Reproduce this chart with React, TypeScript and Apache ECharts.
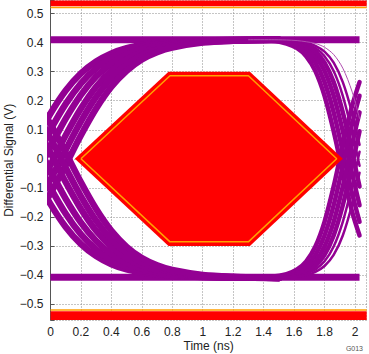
import React, { useEffect, useRef } from "react";
import * as echarts from "echarts";

// ---- data ----
const X_MIN = 0;
const X_MAX = 2.077;
const Y_MIN = -0.555;
const Y_MAX = 0.545;

// eye mask (hexagon), outer red and inner orange outline
const MASK_X = [0.16, 0.775, 1.31, 1.92, 1.31, 0.775];
const MASK_Y = [0, 0.3, 0.3, 0, -0.3, -0.3];
const MASK_IN_X = [0.2, 0.785, 1.3, 1.88, 1.3, 0.785];
const MASK_IN_Y = [0, 0.286, 0.286, 0, -0.286, -0.286];

// upper / lower limit bands
const BAND_TOP = [0.525, 0.545];
const BAND_BOTTOM = [-0.555, -0.525];
const BAND_EDGE = [0.521, -0.521];

// steady levels
const LEVEL_HIGH = 0.41;
const LEVEL_LOW = -0.408;
const LEVEL_END = 2.03;

// left transitions
const X_LEFT = [-0.2, -0.1, 0, 0.1, 0.2, 0.3, 0.4, 0.5, 0.6, 0.7, 0.8, 1.0, 1.2, 1.5];
const RISE_LEFT = [
  [-0.041, 0.061, 0.156, 0.235, 0.294, 0.335, 0.363, 0.381, 0.392, 0.399, 0.403, 0.407, 0.409, 0.41],
  [-0.1, 0, 0.1, 0.189, 0.26, 0.312, 0.348, 0.371, 0.386, 0.395, 0.401, 0.407, 0.409, 0.41],
  [-0.156, -0.061, 0.041, 0.138, 0.22, 0.283, 0.328, 0.358, 0.378, 0.39, 0.398, 0.405, 0.408, 0.41],
  [-0.205, -0.119, -0.021, 0.081, 0.173, 0.248, 0.303, 0.342, 0.367, 0.383, 0.394, 0.404, 0.408, 0.41],
  [-0.241, -0.164, -0.071, 0.031, 0.129, 0.213, 0.278, 0.324, 0.356, 0.376, 0.389, 0.402, 0.407, 0.41],
  [-0.272, -0.205, -0.119, -0.021, 0.081, 0.173, 0.248, 0.303, 0.342, 0.367, 0.383, 0.4, 0.406, 0.41],
];
const FALL_LEFT = [
  [0.041, -0.061, -0.156, -0.235, -0.294, -0.335, -0.363, -0.381, -0.392, -0.399, -0.403, -0.407, -0.409, -0.41],
  [0.1, 0, -0.1, -0.189, -0.26, -0.312, -0.348, -0.371, -0.386, -0.395, -0.401, -0.407, -0.409, -0.41],
  [0.156, 0.061, -0.041, -0.138, -0.22, -0.283, -0.328, -0.358, -0.378, -0.39, -0.398, -0.405, -0.408, -0.41],
  [0.205, 0.119, 0.021, -0.081, -0.173, -0.248, -0.303, -0.342, -0.367, -0.383, -0.394, -0.404, -0.408, -0.41],
  [0.241, 0.164, 0.071, -0.031, -0.129, -0.213, -0.278, -0.324, -0.356, -0.376, -0.389, -0.402, -0.407, -0.41],
  [0.272, 0.205, 0.119, 0.021, -0.081, -0.173, -0.248, -0.303, -0.342, -0.367, -0.383, -0.4, -0.406, -0.41],
];

// right transitions
const X_RIGHT = [1.3, 1.45, 1.55, 1.62, 1.68, 1.74, 1.8, 1.86, 1.92, 1.98, 2.03];
const FALL_RIGHT = [
  [0.409, 0.406, 0.397, 0.381, 0.353, 0.302, 0.217, 0.095, -0.048, -0.18, -0.264],
  [0.409, 0.407, 0.401, 0.389, 0.369, 0.331, 0.264, 0.16, 0.024, -0.117, -0.217],
  [0.41, 0.408, 0.403, 0.395, 0.381, 0.353, 0.302, 0.217, 0.095, -0.048, -0.16],
  [0.41, 0.409, 0.405, 0.4, 0.389, 0.369, 0.331, 0.264, 0.16, 0.024, -0.095],
  [0.41, 0.41, 0.407, 0.403, 0.395, 0.381, 0.353, 0.302, 0.217, 0.095, -0.024],
  [0.41, 0.41, 0.408, 0.405, 0.4, 0.389, 0.369, 0.331, 0.264, 0.16, 0.048],
];
const RISE_RIGHT = [
  [-0.409, -0.406, -0.397, -0.381, -0.353, -0.302, -0.217, -0.095, 0.048, 0.18, 0.264],
  [-0.409, -0.407, -0.401, -0.389, -0.369, -0.331, -0.264, -0.16, -0.024, 0.117, 0.217],
  [-0.41, -0.408, -0.403, -0.395, -0.381, -0.353, -0.302, -0.217, -0.095, 0.048, 0.16],
  [-0.41, -0.409, -0.405, -0.4, -0.389, -0.369, -0.331, -0.264, -0.16, -0.024, 0.095],
  [-0.41, -0.41, -0.407, -0.403, -0.395, -0.381, -0.353, -0.302, -0.217, -0.095, 0.024],
  [-0.41, -0.41, -0.408, -0.405, -0.4, -0.389, -0.369, -0.331, -0.264, -0.16, -0.048],
];
const FALL_RIGHT_OUTLIER = [0.41, 0.41, 0.409, 0.407, 0.403, 0.397, 0.384, 0.359, 0.312, 0.233, 0.139];

const X_TICK_STEP = 0.2;

const PURPLE = "#930093";
const RED = "#ff0000";
const ORANGE = "#ffa000";
const FONT = "Liberation Sans, Arial, sans-serif";

function zip(xs: number[], ys: number[]) {
  return xs.map((x, i) => [x, ys[i]]);
}

function trace(xs: number[], ys: number[], width: number, color = PURPLE) {
  return {
    type: "line",
    data: zip(xs, ys),
    smooth: 0.3,
    symbol: "none",
    silent: true,
    z: 2,
    lineStyle: { color, width, cap: "round", join: "round" },
  };
}

function polygon(pts: number[][], fill: string, z = 4) {
  return {
    type: "custom",
    silent: true,
    z,
    data: [[0, 0]],
    renderItem: (_p: any, api: any) => ({
      type: "polygon",
      shape: { points: pts.map((p) => api.coord(p)) },
      style: { fill },
    }),
  };
}

function hline(y: number, x0: number, x1: number, color: string, width: number, z = 5) {
  return {
    type: "line",
    data: [
      [x0, y],
      [x1, y],
    ],
    symbol: "none",
    silent: true,
    z,
    lineStyle: { color, width },
  };
}

export default function App() {
  const ref = useRef<HTMLDivElement>(null);
  useEffect(() => {
    if (!ref.current) return;
    const chart = echarts.init(ref.current, null, { renderer: "svg" });

    const series: any[] = [];
    series.push(hline(LEVEL_HIGH, 0, LEVEL_END, PURPLE, 7, 2));
    series.push(hline(LEVEL_LOW, 0, LEVEL_END, PURPLE, 7, 2));
    RISE_LEFT.forEach((ys) => series.push(trace(X_LEFT, ys, 6.5)));
    FALL_LEFT.forEach((ys) => series.push(trace(X_LEFT, ys, 6.5)));
    FALL_RIGHT.forEach((ys, i) => series.push(trace(X_RIGHT, ys, i < 4 ? 4.5 : 2.5)));
    RISE_RIGHT.forEach((ys, i) => series.push(trace(X_RIGHT, ys, i < 4 ? 4.5 : 2.5)));
    series.push(trace(X_RIGHT, FALL_RIGHT_OUTLIER, 1, "#b04db0"));

    series.push(polygon(zip(MASK_X, MASK_Y), RED));
    const inner = zip(MASK_IN_X, MASK_IN_Y);
    series.push({
      type: "line",
      data: [...inner, inner[0]],
      symbol: "none",
      silent: true,
      z: 5,
      lineStyle: { color: ORANGE, width: 1.5 },
    });
    series.push(
      polygon(
        [
          [X_MIN, BAND_TOP[0]],
          [X_MAX, BAND_TOP[0]],
          [X_MAX, BAND_TOP[1]],
          [X_MIN, BAND_TOP[1]],
        ],
        RED
      )
    );
    series.push(
      polygon(
        [
          [X_MIN, BAND_BOTTOM[0]],
          [X_MAX, BAND_BOTTOM[0]],
          [X_MAX, BAND_BOTTOM[1]],
          [X_MIN, BAND_BOTTOM[1]],
        ],
        RED
      )
    );
    series.push(hline(BAND_EDGE[0], X_MIN, X_MAX, ORANGE, 1.5));
    series.push(hline(BAND_EDGE[1], X_MIN, X_MAX, ORANGE, 1.5));

    const gridLine = { show: true, lineStyle: { color: "#8a8a8a", width: 1, type: [1, 2] } };

    chart.setOption({
      animation: false,
      backgroundColor: "#ffffff",
      grid: {
        left: 50.5,
        right: 2.3,
        top: 0.5,
        bottom: 34,
        containLabel: false,
        outerBoundsMode: "none",
      },
      xAxis: {
        type: "value",
        min: X_MIN,
        max: X_MAX,
        interval: X_TICK_STEP,
        name: "Time (ns)",
        nameLocation: "middle",
        nameGap: 19.5,
        nameMoveOverlap: false,
        nameTextStyle: { fontFamily: FONT, fontSize: 12, color: "#222", verticalAlign: "top" },
        axisLine: { show: false, onZero: false },
        axisTick: { show: false },
        axisLabel: {
          fontFamily: FONT,
          fontSize: 12,
          color: "#222",
          margin: 6,
          showMaxLabel: false,
          formatter: (v: number) => {
            const k = v / X_TICK_STEP;
            if (Math.abs(k - Math.round(k)) > 1e-6) return "";
            return String(Math.round(v * 10) / 10);
          },
        },
        splitLine: gridLine,
      },
      yAxis: {
        type: "value",
        min: Y_MIN,
        max: Y_MAX,
        splitNumber: 11,
        minInterval: 0.1,
        maxInterval: 0.1,
        name: "Differential Signal (V)",
        nameLocation: "middle",
        nameGap: 36,
        nameMoveOverlap: false,
        nameTextStyle: { fontFamily: FONT, fontSize: 12, color: "#222" },
        axisLine: { show: true, lineStyle: { color: "#555", width: 1 } },
        axisTick: { show: true, inside: true, length: 4, lineStyle: { color: "#555" } },
        axisLabel: {
          fontFamily: FONT,
          fontSize: 12,
          color: "#222",
          margin: 7,
          formatter: (v: number) => {
            if (Math.abs(v) > 0.5001) return "";
            const r = Math.round(v * 10) / 10;
            if (Math.abs(r) < 1e-9) return "0";
            return (r < 0 ? "\u2212" : "") + Math.abs(r).toFixed(1);
          },
        },
        splitLine: gridLine,
      },
      graphic: [
        {
          type: "text",
          right: 6,
          bottom: 2,
          style: { text: "G013", fontFamily: FONT, fontSize: 7, fill: "#555" },
        },
      ],
      series,
    });

    return () => chart.dispose();
  }, []);

  return (
    <div
      ref={ref}
      style={{ position: "fixed", left: 0, top: 0, width: 369, height: 354, background: "#fff" }}
    />
  );
}
